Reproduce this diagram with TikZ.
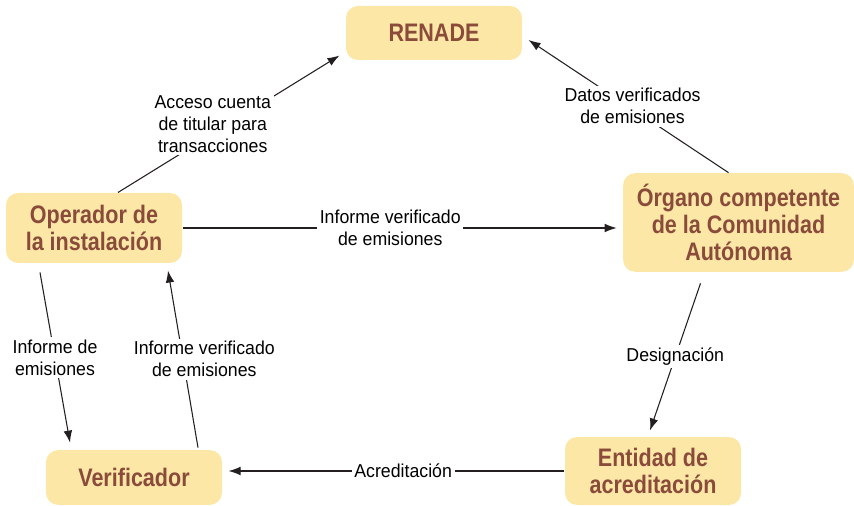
\documentclass[tikz,border=0pt]{standalone}
\usepackage{fontspec}
\setmainfont{Liberation Sans}
\newfontfamily\boxfont[FakeStretch=0.85]{Liberation Sans}
\newfontfamily\lblfont[FakeStretch=0.95]{Liberation Sans}
\usetikzlibrary{calc,arrows.meta}
\definecolor{boxfill}{HTML}{FDE7A6}
\definecolor{boxtext}{HTML}{8A4B3B}
\definecolor{linecol}{HTML}{231F20}
\begin{document}
\begin{tikzpicture}[->,>={Latex[length=9pt,width=6.5pt]},x=0.75pt,y=-0.75pt,line width=0.8pt,draw=linecol,
	box/.style={rectangle,rounded corners=9pt,fill=boxfill,text=boxtext,align=center,minimum width=132pt,inner sep=2pt,font=\boxfont\bfseries\fontsize{19}{20}\selectfont},
	lbl/.style={fill=white,align=center,text=black,inner sep=2pt,font=\lblfont\fontsize{14}{16.5}\selectfont}]
	\useasboundingbox (0,0) rectangle (854,506);
	\draw 
		(434,33) node[box,minimum height=40.5pt](ren) {RENADE}
		(94,228) node[box,minimum height=52.5pt](op) {Operador de\\la instalación}
		(738.5,222.5) node[box,minimum width=173pt,minimum height=74pt](org) {Órgano competente\\de la Comunidad\\Autónoma}
		(134,477.5) node[box,minimum height=41pt](ver) {Verificador}
		(653,471) node[box,minimum height=51pt](ent) {Entidad de\\acreditación};
	\draw ($(op.north)+(24,0)$) -- node[lbl,xshift=-12pt] {Acceso cuenta\\de titular para\\transacciones} ($(ren.south west)+(-6,-5)$);
	\draw ($(org.north)+(-10,0)$) -- node[lbl,xshift=3pt] {Datos verificados\\de emisiones} ($(ren.east)+(6,7)$);
	\draw (op.east) -- node[lbl,xshift=-7pt] {Informe verificado\\de emisiones} ($(org.west |- op.east)+(-6,0)$);
	\draw ($(org.south)+(-38,11)$) -- node[lbl] {Designación} ($(ent.north)+(-3,-6)$);
	\draw (ent.west) -- node[lbl,xshift=5pt] {Acreditación} ($(ver.east |- ent.west)+(6,0)$);
	\draw ($(op.south)+(-54,9)$) -- node[lbl] {Informe de\\emisiones} ($(ver.north)+(-64,-7)$);
	\draw ($(ver.north)+(64,-2)$) -- node[lbl,xshift=16pt] {Informe verificado\\de emisiones} ($(op.south)+(74,7)$);
\end{tikzpicture}
\end{document}
